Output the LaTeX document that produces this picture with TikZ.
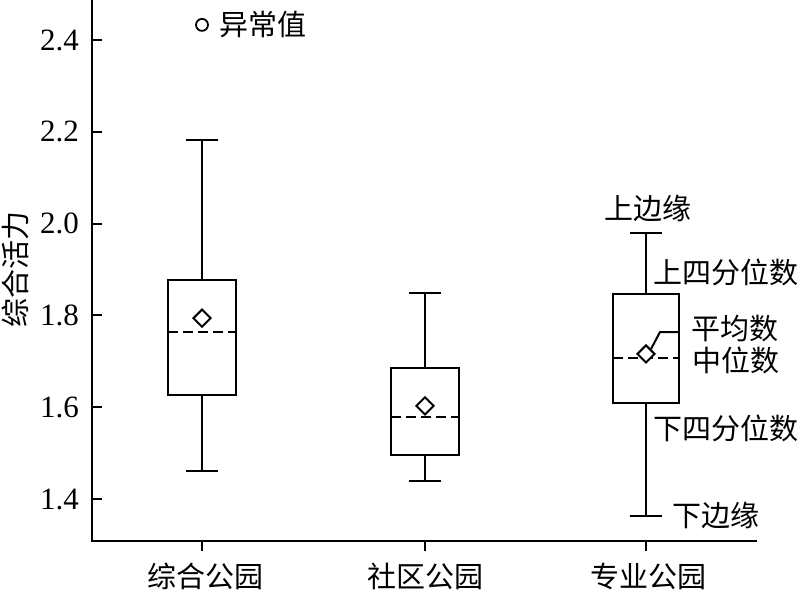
\documentclass[tikz,border=0pt]{standalone}
\usepackage{fontspec}
\setmainfont{Liberation Serif}
\newfontfamily\cjk{Noto Sans CJK SC}
\usetikzlibrary{calc, shapes.geometric}
\tikzset{
    my-line/.style={
        draw, line width=2pt
    },
    my-median/.style={
        draw, line width=2pt, dash pattern=on 10pt off 5pt
    },
    my-mean/.style={
        draw, fill=white, shape=diamond, line width=2pt, minimum size=18pt, inner sep=0pt
    },
    my-outlier/.style={
        draw, shape=circle, line width=1.8pt, minimum size=12pt, inner sep=0pt
    },
    my-text/.style={
        font=\cjk\fontsize{29}{31}\selectfont, inner sep=0pt
    },
    my-num/.style={
        font=\fontsize{31}{33}\selectfont, inner sep=0pt, anchor=east
    },
}
\begin{document}
\begin{tikzpicture}[x=1pt, y=459pt]

        \useasboundingbox (0, 1.2017) rectangle (800, 2.4872);

        % AXES
        \coordinate[] (ORIGIN) at (92, 1.3085);
        \coordinate[] (YTOP)   at (92, 2.4872);
        \coordinate[] (XEND)   at (757, 1.3085);
        \draw[my-line] (YTOP) -- (ORIGIN) -- (XEND);

        % Y TICKS AND LABELS
        \node[my-num] (T14) at (79, 1.4) {1.4};
        \node[my-num] (T16) at (79, 1.6) {1.6};
        \node[my-num] (T18) at (79, 1.8) {1.8};
        \node[my-num] (T20) at (79, 2.0) {2.0};
        \node[my-num] (T22) at (79, 2.2) {2.2};
        \node[my-num] (T24) at (79, 2.4) {2.4};
        \draw[my-line] (92, 1.4) -- (102, 1.4);
        \draw[my-line] (92, 1.6) -- (102, 1.6);
        \draw[my-line] (92, 1.8) -- (102, 1.8);
        \draw[my-line] (92, 2.0) -- (102, 2.0);
        \draw[my-line] (92, 2.2) -- (102, 2.2);
        \draw[my-line] (92, 2.4) -- (102, 2.4);
        \node[my-text, rotate=90] (YLABEL) at (15, 1.899) {综合活力};

        % X TICKS AND LABELS
        \coordinate[] (X1) at (202, 1.3085);
        \coordinate[] (X2) at (425, 1.3085);
        \coordinate[] (X3) at (646, 1.3085);
        \draw[my-line] (X1) -- ($(X1) + (0, -0.022)$);
        \draw[my-line] (X2) -- ($(X2) + (0, -0.022)$);
        \draw[my-line] (X3) -- ($(X3) + (0, -0.022)$);
        \node[my-text] (CAT1) at (205, 1.2322) {综合公园};
        \node[my-text] (CAT2) at (425, 1.2322) {社区公园};
        \node[my-text] (CAT3) at (648, 1.2322) {专业公园};

        % BOX 1
        \coordinate[] (BOX1TOP) at (202, 2.182);
        \coordinate[] (BOX1Q3)  at (202, 1.877);
        \coordinate[] (BOX1MED) at (202, 1.764);
        \coordinate[] (BOX1Q1)  at (202, 1.627);
        \coordinate[] (BOX1BOT) at (202, 1.461);
        \draw[my-line] (BOX1TOP) -- (BOX1Q3);
        \draw[my-line] (BOX1Q1)  -- (BOX1BOT);
        \draw[my-line] ($(BOX1TOP) + (-16, 0)$) -- ($(BOX1TOP) + (16, 0)$);
        \draw[my-line] ($(BOX1BOT) + (-16, 0)$) -- ($(BOX1BOT) + (16, 0)$);
        \draw[my-line] ($(BOX1Q1) + (-34, 0)$) rectangle ($(BOX1Q3) + (34, 0)$);
        \draw[my-median] ($(BOX1MED) + (-34, 0)$) -- ($(BOX1MED) + (34, 0)$);
        \node[my-mean] (MEAN1) at (202, 1.794) {};
        \node[my-outlier] (OUT1) at (202, 2.433) {};
        \node[my-text, anchor=west] (OUTLABEL) at (219, 2.433) {异常值};

        % BOX 2
        \coordinate[] (BOX2TOP) at (425, 1.849);
        \coordinate[] (BOX2Q3)  at (425, 1.685);
        \coordinate[] (BOX2MED) at (425, 1.579);
        \coordinate[] (BOX2Q1)  at (425, 1.496);
        \coordinate[] (BOX2BOT) at (425, 1.439);
        \draw[my-line] (BOX2TOP) -- (BOX2Q3);
        \draw[my-line] (BOX2Q1)  -- (BOX2BOT);
        \draw[my-line] ($(BOX2TOP) + (-16, 0)$) -- ($(BOX2TOP) + (16, 0)$);
        \draw[my-line] ($(BOX2BOT) + (-16, 0)$) -- ($(BOX2BOT) + (16, 0)$);
        \draw[my-line] ($(BOX2Q1) + (-34, 0)$) rectangle ($(BOX2Q3) + (34, 0)$);
        \draw[my-median] ($(BOX2MED) + (-34, 0)$) -- ($(BOX2MED) + (34, 0)$);
        \node[my-mean] (MEAN2) at (425, 1.603) {};

        % BOX 3
        \coordinate[] (BOX3TOP) at (646, 1.980);
        \coordinate[] (BOX3Q3)  at (646, 1.847);
        \coordinate[] (BOX3MED) at (646, 1.707);
        \coordinate[] (BOX3Q1)  at (646, 1.609);
        \coordinate[] (BOX3BOT) at (646, 1.363);
        \draw[my-line] (BOX3TOP) -- (BOX3Q3);
        \draw[my-line] (BOX3Q1)  -- (BOX3BOT);
        \draw[my-line] ($(BOX3TOP) + (-16, 0)$) -- ($(BOX3TOP) + (16, 0)$);
        \draw[my-line] ($(BOX3BOT) + (-16, 0)$) -- ($(BOX3BOT) + (16, 0)$);
        \draw[my-line] ($(BOX3Q1) + (-33, 0)$) rectangle ($(BOX3Q3) + (33, 0)$);
        \draw[my-median] ($(BOX3MED) + (-33, 0)$) -- ($(BOX3MED) + (33, 0)$);
        \node[my-mean] (MEAN3) at (646, 1.716) {};

        % BOX 3 LEGEND
        \coordinate[] (KNEE)    at (660, 1.7638);
        \coordinate[] (KNEEEND) at (679, 1.7638);
        \draw[my-line] (MEAN3.north east) -- (KNEE) -- (KNEEEND);
        \node[my-text]              (UPEDGE)  at (648, 2.034)  {上边缘};
        \node[my-text, anchor=west] (UPQ)     at (653, 1.8946) {上四分位数};
        \node[my-text, anchor=west] (AVG)     at (691, 1.7725) {平均数};
        \node[my-text, anchor=west] (MED)     at (692, 1.7028) {中位数};
        \node[my-text, anchor=west] (LOWQ)    at (653, 1.5547) {下四分位数};
        \node[my-text, anchor=west] (LOWEDGE) at (672, 1.365)  {下边缘};

    \end{tikzpicture}
\end{document}
